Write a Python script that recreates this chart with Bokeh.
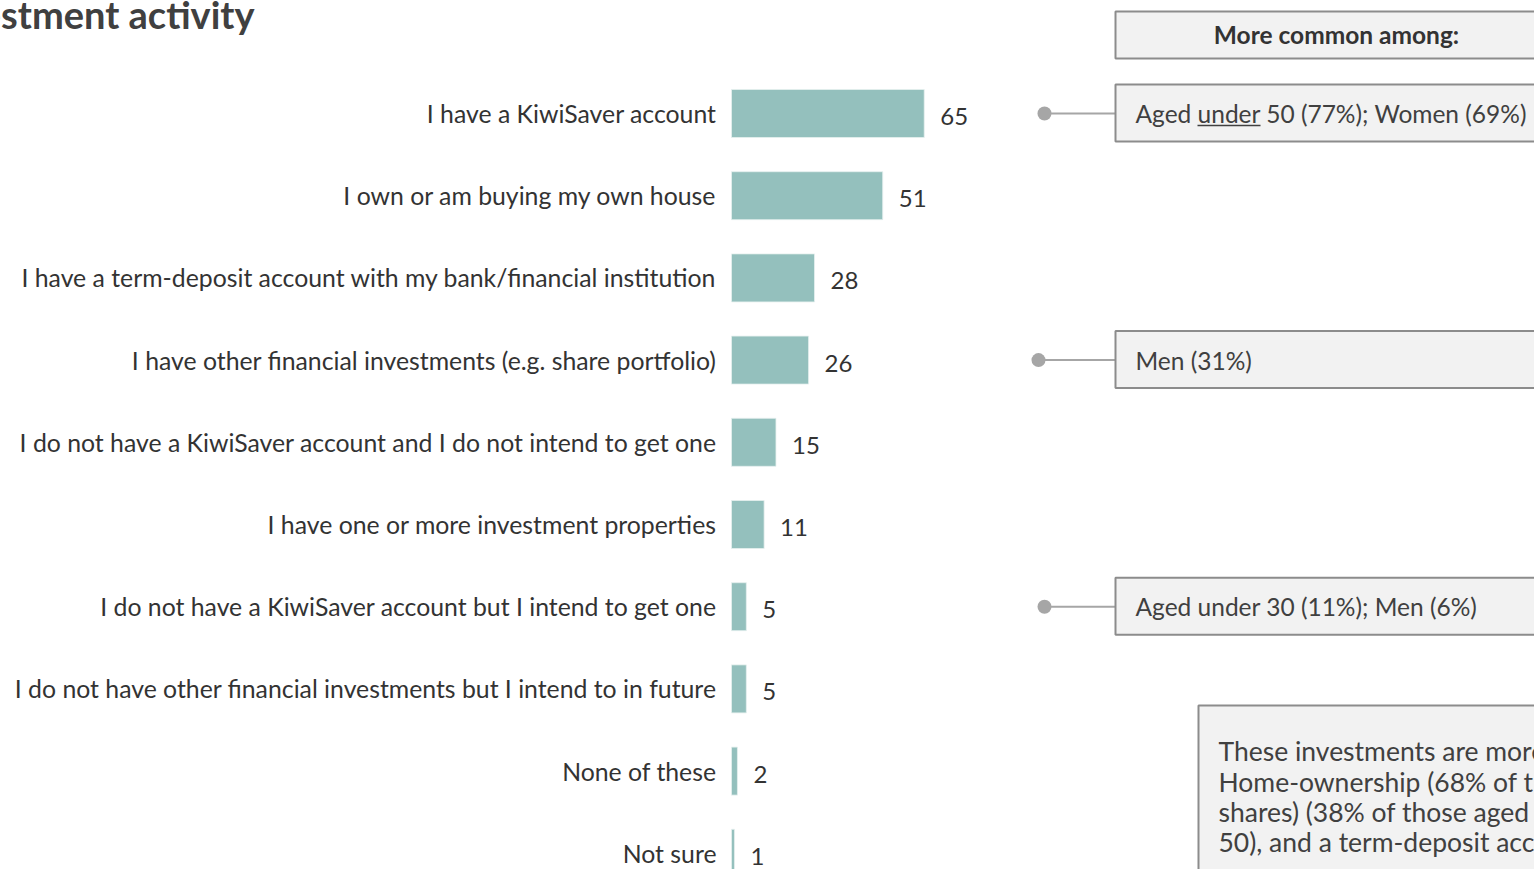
from bokeh.plotting import figure
from bokeh.models import Range1d
from bokeh.core.properties import value
from bokeh.embed import file_html
from bokeh.resources import INLINE

# ---- data ----
categories = [
    "I have a KiwiSaver account",
    "I own or am buying my own house",
    "I have a term-deposit account with my bank/financial institution",
    "I have other financial investments (e.g. share portfolio)",
    "I do not have a KiwiSaver account and I do not intend to get one",
    "I have one or more investment properties",
    "I do not have a KiwiSaver account but I intend to get one",
    "I do not have other financial investments but I intend to in future",
    "None of these",
    "Not sure",
]
values = [65, 51, 28, 26, 15, 11, 5, 5, 2, 1]

title_text = "Investment activity"
header_text = "More common among:"
note_index = [0, 3, 6]
note_texts = [
    "Aged under 50 (77%); Women (69%)",
    "Men (31%)",
    "Aged under 30 (11%); Men (6%)",
]
summary_lines = [
    "These investments are more common among older people:",
    "Home-ownership (68% of those aged over 50), other financial investments (e.g.",
    "shares) (38% of those aged over 50), investment properties (15% of those aged over",
    "50), and a term-deposit account (36% of those aged over 50).",
]

# ---- layout helpers (reference pixel -> data coords) ----
S = 2.965          # px per percentage point
X0 = 731           # px of zero
ROW = 82.2         # px per category row
Y0 = 113           # px of first row centre
OFF = 0


def X(px):
    return (px - X0) / S


def Y(py):
    return (py - Y0) / ROW


W, H = 1534, 869
idx = list(range(len(categories)))

p = figure(width=W, height=H, output_backend="svg", toolbar_location=None,
           x_range=Range1d(X(OFF), X(OFF + W)),
           y_range=Range1d(Y(OFF + H), Y(OFF)),
           min_border=0, x_axis_location=None, y_axis_location=None)
p.grid.visible = False
p.outline_line_color = None
p.background_fill_color = "white"
p.border_fill_color = "white"

FONT = value("Lato")
TXT = "#333333"

# bars
p.hbar(y=idx, left=0, right=values, height=48 / ROW,
       fill_color="#94c0bd", line_color="#e6f0ef", line_width=0.8)

# category labels
p.text(x=[X(716)] * len(idx), y=idx, text=categories, text_align="right",
       text_baseline="middle", text_font=FONT, text_font_size="24.8px",
       text_color=TXT)

# value labels
p.text(x=[v + 16 / S for v in values], y=idx, text=[str(v) for v in values],
       text_align="left", text_baseline="middle", y_offset=3,
       text_font=FONT, text_font_size="24px", text_color=TXT)

# title
p.text(x=[X(254)], y=[Y(13)], text=[title_text], text_align="right",
       text_baseline="middle", text_font=FONT, text_font_size="38px",
       text_font_style="bold", text_color="#404040")

# header box
BOX_FILL = "#f2f2f2"
BOX_LINE = "#8c8c8c"
p.quad(left=[X(1115)], right=[X(1560)], top=[Y(11)], bottom=[Y(58)],
       fill_color=BOX_FILL, line_color=BOX_LINE, line_width=2)
p.text(x=[X(1336)], y=[Y(34)], text=[header_text], text_align="center",
       text_baseline="middle", text_font=FONT, text_font_size="24.5px",
       text_font_style="bold", text_color="#333333")

# note boxes with connectors
dot_px = [1044, 1038, 1044]
ny = [float(i) for i in note_index]
p.segment(x0=[X(d) for d in dot_px], x1=[X(1115)] * 3, y0=ny, y1=ny,
          line_color="#a6a6a6", line_width=2)
p.scatter(x=[X(d) for d in dot_px], y=ny, size=14, fill_color="#a6a6a6",
          line_color=None)
p.quad(left=[X(1115)] * 3, right=[X(1560)] * 3,
       top=[i - 29 / ROW for i in ny], bottom=[i + 28 / ROW for i in ny],
       fill_color=BOX_FILL, line_color=BOX_LINE, line_width=2)
p.text(x=[X(1135)] * 3, y=ny, text=note_texts, text_align="left",
       text_baseline="middle", text_font=FONT, text_font_size="24.5px",
       text_color="#404040")
# underline "under"
p.segment(x0=[X(1197)], x1=[X(1260)], y0=[Y(125)], y1=[Y(125)],
          line_color="#404040", line_width=1.5)

# summary box
p.quad(left=[X(1198)], right=[X(1560)], top=[Y(705)], bottom=[Y(900)],
       fill_color=BOX_FILL, line_color=BOX_LINE, line_width=2)
p.text(x=[X(1218)] * 4, y=[Y(v) for v in (750, 781, 811, 841)],
       text=summary_lines, text_align="left", text_baseline="middle",
       text_font=FONT, text_font_size="26.5px", text_color="#404040")

open("out.html", "w").write(file_html(p, INLINE))
